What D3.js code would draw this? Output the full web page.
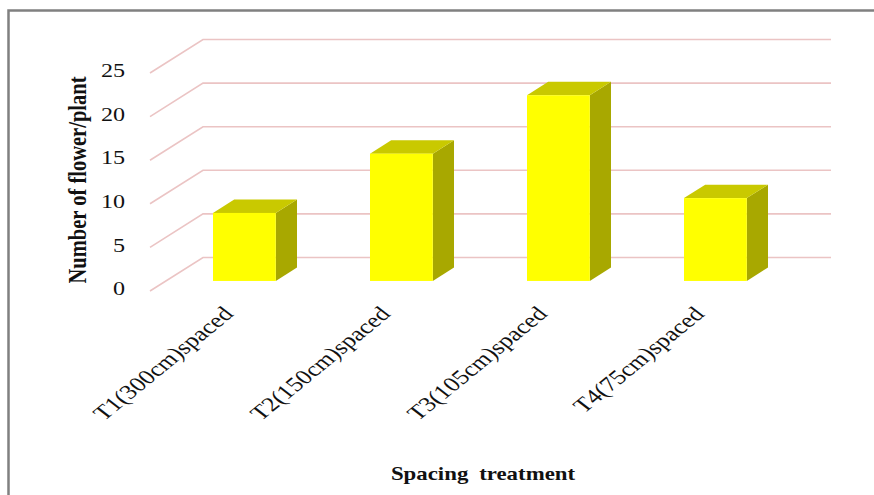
<!DOCTYPE html>
<html>
<head>
<meta charset="utf-8">
<script src="https://cdn.jsdelivr.net/npm/d3@7/dist/d3.min.js"></script>
<style>
  html, body { margin: 0; padding: 0; background: #fff; }
  svg { display: block; }
  text { font-family: "Liberation Serif", "Times New Roman", serif; fill: #111; }
</style>
</head>
<body>
<svg id="chart" width="874" height="495"></svg>
<script>
// Number of flowers per plant under four spacing treatments
const categories = ["T1(300cm)spaced", "T2(150cm)spaced", "T3(105cm)spaced", "T4(75cm)spaced"];
const values = [7.8, 14.6, 21.3, 9.5];
const yTicks = [0, 5, 10, 15, 20, 25];
const yTitle = "Number of flower/plant";
const xTitle = "Spacing treatment";

const svg = d3.select("#chart");
const W = 874, H = 495;

// Glyphs are drawn a little wider than tall
const SX = 1.27;

// Front wall of the 3D plot box and its depth offset
const front = { left: 150, right: 778, bottom: 291, top: 73 };
const DX = 53, DY = -33.5;

const x = d3.scaleBand().domain(categories).range([front.left, front.right]).padding(0);
const y = d3.scaleLinear().domain([0, 25]).range([front.bottom, front.top]);

// Outer frame
svg.append("rect")
  .attr("x", 8.5).attr("y", 10.5)
  .attr("width", W + 20).attr("height", H + 20)
  .attr("fill", "none").attr("stroke", "#808080").attr("stroke-width", 2.5);

// Gridlines: diagonal along the side wall, then flat along the back wall
const grid = svg.append("g").attr("fill", "none").attr("stroke", "#ebc4c4").attr("stroke-width", 1.6);
yTicks.forEach(t => {
  const y0 = y(t);
  grid.append("path")
    .attr("d", d3.line()([[front.left, y0], [front.left + DX, y0 + DY], [front.right + DX, y0 + DY]]));
});

// Y tick labels
const tickG = svg.append("g");
yTicks.forEach(t => {
  tickG.append("text")
    .attr("transform", `translate(125,${y(t) - 2}) scale(${SX},1)`)
    .attr("text-anchor", "end")
    .attr("dominant-baseline", "central")
    .attr("font-size", 19)
    .text(t);
});

// 3D bars: front face sits at 30% of the depth, bar depth is 40%
const bw = x.bandwidth();
const barW = bw * 0.4;
const f0 = 0.3, dz = 0.4;
const bars = svg.append("g");
categories.forEach((c, i) => {
  const cx = x(c) + bw / 2 + f0 * DX;
  const x0 = cx - barW / 2, x1 = cx + barW / 2;
  const yb = y(0) + f0 * DY, yt = y(values[i]) + f0 * DY;
  const ox = dz * DX, oy = dz * DY;
  const poly = pts => pts.map(p => p.join(",")).join(" ");
  // right side
  bars.append("polygon")
    .attr("points", poly([[x1, yt], [x1 + ox, yt + oy], [x1 + ox, yb + oy], [x1, yb]]))
    .attr("fill", "#a8a800");
  // top
  bars.append("polygon")
    .attr("points", poly([[x0, yt], [x0 + ox, yt + oy], [x1 + ox, yt + oy], [x1, yt]]))
    .attr("fill", "#c9c900");
  // front
  bars.append("rect")
    .attr("x", x0).attr("y", yt)
    .attr("width", barW).attr("height", yb - yt)
    .attr("fill", "#ffff00");
});

// Category labels, rotated
const catG = svg.append("g");
categories.forEach(c => {
  const cx = x(c) + bw / 2 + 6;
  catG.append("text")
    .attr("transform", `translate(${cx},315) scale(${SX},1) rotate(-46)`)
    .attr("text-anchor", "end")
    .attr("font-size", 20.5)
    .text(c);
});

// Axis titles
svg.append("text")
  .attr("transform", `translate(86,180) scale(${SX},1) rotate(-90)`)
  .attr("text-anchor", "middle")
  .attr("font-size", 19)
  .attr("font-weight", "bold")
  .attr("textLength", 207)
  .attr("lengthAdjust", "spacingAndGlyphs")
  .text(yTitle);

svg.append("text")
  .attr("transform", `translate(483,480) scale(${SX},1)`)
  .attr("text-anchor", "middle")
  .attr("font-size", 18)
  .attr("font-weight", "bold")
  .attr("word-spacing", 4)
  .text(xTitle);
</script>
</body>
</html>
